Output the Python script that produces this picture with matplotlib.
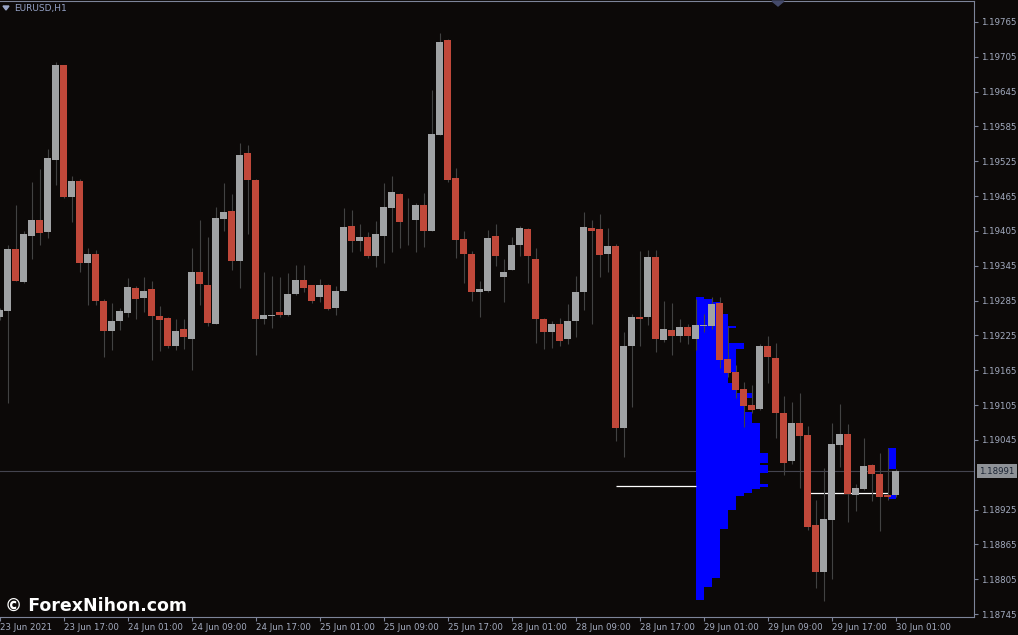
import numpy as np
import matplotlib
matplotlib.use("Agg")
import matplotlib.pyplot as plt
from matplotlib.patches import Polygon
from matplotlib.transforms import blended_transform_factory

# EURUSD H1 candles, 23 Jun 09:00 .. 30 Jun 01:00
opens = [
    1.19256, 1.19267, 1.19374, 1.19317, 1.19396, 1.19424, 1.19403, 1.19527, 1.19691, 1.19464,
    1.19491, 1.19350, 1.19365, 1.19285, 1.19233, 1.19249, 1.19264, 1.19307, 1.19290, 1.19305,
    1.19259, 1.19255, 1.19206, 1.19236, 1.19219, 1.19334, 1.19312, 1.19245, 1.19426, 1.19439,
    1.19354, 1.19539, 1.19493, 1.19254, 1.19259, 1.19265, 1.19260, 1.19297, 1.19321, 1.19312,
    1.19292, 1.19312, 1.19273, 1.19302, 1.19414, 1.19387, 1.19395, 1.19362, 1.19397, 1.19445,
    1.19469, 1.19424, 1.19423, 1.19450, 1.19405, 1.19571, 1.19734, 1.19496, 1.19391, 1.19365,
    1.19299, 1.19302, 1.19396, 1.19326, 1.19338, 1.19380, 1.19408, 1.19357, 1.19254, 1.19231,
    1.19244, 1.19218, 1.19250, 1.19299, 1.19410, 1.19408, 1.19366, 1.19379, 1.19066, 1.19206,
    1.19257, 1.19256, 1.19360, 1.19217, 1.19234, 1.19224, 1.19240, 1.19219, 1.19242, 1.19241,
    1.19281, 1.19184, 1.19162, 1.19133, 1.19105, 1.19098, 1.19207, 1.19186, 1.19091, 1.19009,
    1.19074, 1.19053, 1.18898, 1.18817, 1.18907, 1.19036, 1.19055, 1.18950, 1.18960, 1.19002,
    1.18986, 1.18950, 1.18950,
]
highs = [
    1.19272, 1.19381, 1.19450, 1.19405, 1.19489, 1.19512, 1.19546, 1.19696, 1.19691, 1.19500,
    1.19495, 1.19376, 1.19372, 1.19288, 1.19281, 1.19272, 1.19324, 1.19310, 1.19326, 1.19319,
    1.19276, 1.19257, 1.19253, 1.19253, 1.19376, 1.19424, 1.19395, 1.19446, 1.19488, 1.19469,
    1.19557, 1.19553, 1.19495, 1.19334, 1.19327, 1.19326, 1.19333, 1.19346, 1.19346, 1.19312,
    1.19322, 1.19314, 1.19310, 1.19445, 1.19441, 1.19417, 1.19403, 1.19422, 1.19488, 1.19500,
    1.19470, 1.19462, 1.19453, 1.19470, 1.19648, 1.19746, 1.19736, 1.19514, 1.19405, 1.19371,
    1.19318, 1.19407, 1.19417, 1.19357, 1.19395, 1.19414, 1.19410, 1.19376, 1.19255, 1.19250,
    1.19255, 1.19279, 1.19327, 1.19438, 1.19423, 1.19434, 1.19410, 1.19383, 1.19231, 1.19262,
    1.19371, 1.19372, 1.19372, 1.19284, 1.19281, 1.19253, 1.19245, 1.19288, 1.19262, 1.19291,
    1.19291, 1.19241, 1.19174, 1.19145, 1.19140, 1.19210, 1.19224, 1.19212, 1.19121, 1.19110,
    1.19126, 1.19069, 1.18941, 1.18997, 1.19074, 1.19107, 1.19072, 1.18969, 1.19048, 1.19003,
    1.19022, 1.19031, 1.18995,
]
lows = [
    1.19252, 1.19109, 1.19318, 1.19316, 1.19357, 1.19380, 1.19392, 1.19484, 1.19462, 1.19420,
    1.19335, 1.19277, 1.19277, 1.19187, 1.19200, 1.19235, 1.19256, 1.19254, 1.19266, 1.19183,
    1.19199, 1.19204, 1.19200, 1.19202, 1.19166, 1.19278, 1.19242, 1.19244, 1.19404, 1.19337,
    1.19307, 1.19399, 1.19192, 1.19244, 1.19238, 1.19256, 1.19259, 1.19295, 1.19299, 1.19281,
    1.19283, 1.19269, 1.19261, 1.19302, 1.19369, 1.19371, 1.19359, 1.19342, 1.19349, 1.19368,
    1.19376, 1.19380, 1.19368, 1.19378, 1.19405, 1.19571, 1.19490, 1.19359, 1.19316, 1.19285,
    1.19256, 1.19300, 1.19345, 1.19283, 1.19337, 1.19361, 1.19316, 1.19212, 1.19201, 1.19204,
    1.19207, 1.19211, 1.19223, 1.19268, 1.19245, 1.19326, 1.19335, 1.19043, 1.19016, 1.19102,
    1.19206, 1.19243, 1.19197, 1.19214, 1.19191, 1.19214, 1.19210, 1.19200, 1.19231, 1.19236,
    1.19169, 1.19153, 1.19117, 1.19068, 1.19092, 1.19097, 1.19143, 1.19048, 1.18985, 1.19003,
    1.18962, 1.18890, 1.18790, 1.18767, 1.18805, 1.18998, 1.18904, 1.18922, 1.18959, 1.18940,
    1.18888, 1.18941, 1.18947,
]
closes = [
    1.19269, 1.19374, 1.19319, 1.19400, 1.19424, 1.19402, 1.19531, 1.19691, 1.19464, 1.19491,
    1.19349, 1.19365, 1.19285, 1.19233, 1.19250, 1.19267, 1.19308, 1.19288, 1.19302, 1.19259,
    1.19252, 1.19206, 1.19233, 1.19223, 1.19334, 1.19314, 1.19247, 1.19427, 1.19438, 1.19354,
    1.19536, 1.19493, 1.19254, 1.19260, 1.19260, 1.19260, 1.19296, 1.19321, 1.19307, 1.19285,
    1.19312, 1.19271, 1.19302, 1.19412, 1.19388, 1.19395, 1.19361, 1.19400, 1.19446, 1.19472,
    1.19421, 1.19423, 1.19450, 1.19404, 1.19572, 1.19731, 1.19492, 1.19390, 1.19366, 1.19300,
    1.19305, 1.19393, 1.19361, 1.19334, 1.19381, 1.19410, 1.19361, 1.19254, 1.19231, 1.19244,
    1.19216, 1.19250, 1.19300, 1.19412, 1.19405, 1.19364, 1.19379, 1.19066, 1.19207, 1.19257,
    1.19254, 1.19360, 1.19219, 1.19236, 1.19224, 1.19240, 1.19224, 1.19243, 1.19243, 1.19279,
    1.19183, 1.19160, 1.19131, 1.19103, 1.19097, 1.19207, 1.19188, 1.19091, 1.19005, 1.19074,
    1.19052, 1.18895, 1.18817, 1.18909, 1.19038, 1.19055, 1.18952, 1.18962, 1.19000, 1.18986,
    1.18947, 1.18947, 1.18991,
]

time_ticks = [0, 8, 16, 24, 32, 40, 48, 56, 64, 72, 80, 88, 96, 104, 112]
time_labels = ["23 Jun 2021", "23 Jun 17:00", "24 Jun 01:00", "24 Jun 09:00",
               "24 Jun 17:00", "25 Jun 01:00", "25 Jun 09:00", "25 Jun 17:00",
               "28 Jun 01:00", "28 Jun 09:00", "28 Jun 17:00", "29 Jun 01:00",
               "29 Jun 09:00", "29 Jun 17:00", "30 Jun 01:00"]
price_ticks = [1.18745, 1.18805, 1.18865, 1.18925, 1.19045, 1.19105, 1.19165,
               1.19225, 1.19285, 1.19345, 1.19405, 1.19465, 1.19525, 1.19585,
               1.19645, 1.19705, 1.19765]
last_price = 1.18991

# daily volume profile of 29 Jun (starts at bar 87) and 30 Jun (bar 111)
profile1_start = 87
profile1_edges = [1.19291, 1.19288, 1.19283, 1.19262, 1.19241, 1.19238, 1.19212, 1.19202,
                  1.19162, 1.19143, 1.19126, 1.19117, 1.19093, 1.19074, 1.19022, 1.19005,
                  1.19002, 1.18988, 1.18969, 1.18964, 1.18960, 1.18953, 1.18948, 1.18924,
                  1.18892, 1.18808, 1.18792, 1.18769]
profile1_widths = [1, 2, 3, 4, 5, 4, 6, 5, 4, 5, 7, 6, 7, 8, 9, 8, 9, 8, 9, 8, 7, 6, 5, 4, 3, 2, 1]
profile1_poc = 1.18966

profile2_start = 111
profile2_tops = [1.19031, 1.18950]
profile2_bottoms = [1.18995, 1.18943]
profile2_widths = [1, 1]
profile2_poc = 1.18954

W, H = 1018, 635
bg = "#0c0908"
up_col = "#a0a2a4"
dn_col = "#c0483a"
wick_col = "#424242"
axis_col = "#7d8499"
text_col = "#a4acc0"

fig = plt.figure(figsize=(W / 100, H / 100), dpi=100, facecolor=bg)
ax = fig.add_axes([0, 18 / H, 974 / W, 616 / H])
ax.set_facecolor(bg)

o = np.array(opens)
h = np.array(highs)
l = np.array(lows)
c = np.array(closes)
x = np.arange(len(o))

# profiles
p1_top = np.array(profile1_edges[:-1])
p1_bot = np.array(profile1_edges[1:])
ax.barh(p1_bot, profile1_widths, height=p1_top - p1_bot, left=profile1_start,
        align="edge", color="#0000ff", linewidth=0, zorder=2)
ax.barh(profile2_bottoms, profile2_widths,
        height=np.array(profile2_tops) - np.array(profile2_bottoms),
        left=profile2_start, align="edge", color="#0000ff", linewidth=0, zorder=2)
ax.hlines(profile1_poc, profile1_start - 10, profile1_start, color="white", lw=0.9, zorder=2)
ax.hlines(profile2_poc, profile2_start - 10, profile2_start, color="white", lw=0.9, zorder=2)

ax.axhline(last_price, color="#44444f", lw=0.8, zorder=1)

# candles
colors = np.where(c >= o, up_col, dn_col)
body_lo = np.minimum(o, c)
body_h = np.maximum(np.abs(c - o), 0.000016)
ax.vlines(x, l, h, color=wick_col, lw=0.8, zorder=3)
ax.bar(x, body_h, bottom=body_lo, width=0.875, color=colors, linewidth=0, zorder=4)

ax.set_xlim(0.0625, 121.81)
ax.set_ylim(1.18740, 1.19801)

ax.spines["left"].set_visible(False)
for s in ["right", "bottom", "top"]:
    ax.spines[s].set_color(axis_col)
    ax.spines[s].set_linewidth(0.8)

ax.yaxis.tick_right()
ax.set_yticks(price_ticks)
ax.set_yticklabels([f"{p:.5f}" for p in price_ticks])
ax.tick_params(axis="y", direction="out", length=3, pad=1.8, colors=axis_col,
               labelcolor=text_col, labelsize=6.2, width=0.8)
ax.set_xticks(time_ticks)
ax.set_xticklabels(time_labels)
ax.tick_params(axis="x", direction="out", length=3, pad=1.5, colors=axis_col,
               labelcolor=text_col, labelsize=6.2, width=0.8)
for t in ax.get_xticklabels():
    t.set_horizontalalignment("left")

# current price box
tr = blended_transform_factory(ax.transAxes, ax.transData)
ax.text(1 + 5.5 / 974, last_price, f"{last_price:.5f}", transform=tr, fontsize=6.2,
        color="#1c2535", va="center", ha="left", zorder=6, clip_on=False,
        bbox=dict(boxstyle="square,pad=0.3", fc="#8f9297", ec="none"))


def px(xp, yp):
    return (xp / W, 1 - yp / H)


fig.add_artist(Polygon([px(3, 6), px(9, 6), px(6, 10)], closed=True,
                       transform=fig.transFigure, color="#9aa6c8"))
fig.text(14 / W, 1 - 8.5 / H, "EURUSD,H1", color="#95a2c6", fontsize=6.5, va="center")
fig.add_artist(Polygon([px(772, 1), px(784, 1), px(778, 6)], closed=True,
                       transform=fig.transFigure, color="#444a6a"))
fig.text(5 / W, 1 - 606 / H, "\u00a9 ForexNihon.com", color="white", fontsize=12.5,
         fontweight="bold", va="center")

fig.savefig("out.png", dpi=100, facecolor=bg)
